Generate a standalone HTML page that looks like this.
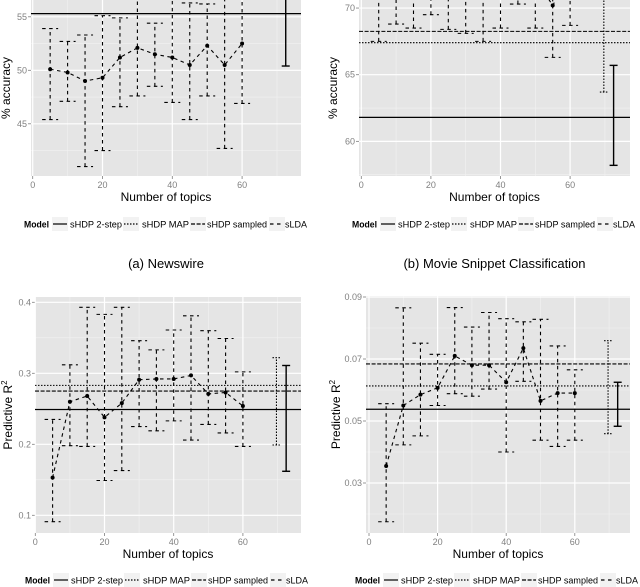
<!DOCTYPE html>
<html><head><meta charset="utf-8">
<style>
html,body{margin:0;padding:0;background:#fff;}
svg{display:block;font-family:"Liberation Sans",sans-serif;}
</style></head>
<body>
<svg id="fig" width="640" height="587" viewBox="0 0 640 587" xmlns="http://www.w3.org/2000/svg"></svg>
<script>
// ---- data ----
const topics = [5,10,15,20,25,30,35,40,45,50,55,60];
// (a) Newswire
const aMean = [50.1,49.8,49.0,49.3,51.2,52.1,51.5,51.2,50.5,52.3,50.5,52.5];
const aLow  = [45.4,47.1,41.0,42.5,46.6,47.6,48.5,47.0,45.4,47.6,42.7,46.9];
const aHigh = [53.9,52.7,53.3,55.1,54.9,58.5,54.4,59.0,56.3,56.2,59.0,59.0];
const aTwoStep = [55.3, 50.4, 59.0]; // mean, low, high
const aMap = [60.0, 58.0, 62.0];
const aSampled = 61.0;
// (b) Movie snippet
const bMean = [72.0,72.5,72.3,72.8,72.0,71.8,72.0,72.2,72.6,72.2,70.2,72.4];
const bLow  = [67.5,68.8,68.5,69.5,68.4,68.1,67.5,68.5,70.3,68.5,66.3,68.7];
const bHigh = [76,76,76,76,76,76,76,76,76,76,76,76];
const bTwoStep = [61.8, 58.2, 65.7];
const bMap = [67.4, 63.7, 73.0];
const bSampled = 68.25;
// (c) Predictive R2
const cMean = [0.153,0.260,0.268,0.238,0.258,0.291,0.292,0.292,0.297,0.271,0.273,0.254];
const cLow  = [0.091,0.198,0.197,0.149,0.163,0.225,0.219,0.233,0.206,0.228,0.216,0.197];
const cHigh = [0.235,0.312,0.393,0.383,0.393,0.346,0.333,0.361,0.381,0.360,0.349,0.302];
const cTwoStep = [0.249, 0.162, 0.311];
const cMap = [0.283, 0.199, 0.322];
const cSampled = 0.275;
// (d) Predictive R2
const dMean = [0.0355,0.055,0.0585,0.0607,0.071,0.068,0.068,0.0625,0.0735,0.0565,0.059,0.059];
const dLow  = [0.0175,0.0423,0.0452,0.055,0.0588,0.058,0.0603,0.040,0.0628,0.0438,0.0418,0.0438];
const dHigh = [0.0556,0.0865,0.0751,0.0715,0.0866,0.0803,0.0850,0.0830,0.0820,0.0828,0.0742,0.0665];
const dTwoStep = [0.0538, 0.0483, 0.0625];
const dMap = [0.0613, 0.0459, 0.0759];
const dSampled = 0.0684;
const aTicks = [45,50,55];
const bTicks = [60,65,70];
const cTicks = [0.1,0.2,0.3,0.4];
const dTicks = [0.03,0.05,0.07,0.09];
const xTicks = [0,20,40,60];
const twoStepX = 72.5, mapX = 69.7;

const NS="http://www.w3.org/2000/svg";
const svg=document.getElementById('fig');
function mk(tag,attrs,parent){const e=document.createElementNS(NS,tag);for(const k in attrs)e.setAttribute(k,attrs[k]);(parent||svg).appendChild(e);return e;}

const DASH={solid:null,map:"1.5,1.5",sampled:"4,1.6",slda:"3.5,3.5"};

function panel(id,cfg){
  const g=mk('g',{});
  
  
  const {x0,x1,y0,y1,xz,sx,yRef,yRefPx,sy}=cfg;
  const X=v=>xz+v*sx;
  const Y=v=>yRefPx-(v-yRef)*sy;
  const bg=mk('rect',{x:x0,y:y0,width:x1-x0,height:y1-y0,fill:'#e5e5e5'},g);
  
  
  const cp=mk('clipPath',{id:'clip-'+id},g);
  mk('rect',{x:x0,y:y0,width:x1-x0,height:y1-y0},cp);
  const tk=cfg.yTicks, step=tk[1]-tk[0];
  for(let i=-1;i<tk.length;i++){const v=tk[0]+step*(i+0.5);const yy=Y(v);if(yy>y0&&yy<y1)mk('line',{x1:x0,x2:x1,y1:yy,y2:yy,stroke:'#f2f2f2','stroke-width':0.6},g);}
  for(let i=0;i<xTicks.length;i++){const v=xTicks[i]+10;const xx=X(v);if(xx<x1)mk('line',{x1:xx,x2:xx,y1:y0,y2:y1,stroke:'#f2f2f2','stroke-width':0.6},g);}
  tk.forEach(v=>{const yy=Y(v);mk('line',{x1:x0,x2:x1,y1:yy,y2:yy,stroke:'#fff','stroke-width':1.2},g);
    mk('line',{x1:x0-3,x2:x0,y1:yy,y2:yy,stroke:'#7f7f7f','stroke-width':0.8},g);
    const t=mk('text',{x:x0-4,y:yy+3,'text-anchor':'end','font-size':9,fill:'#7f7f7f'},g);t.textContent=cfg.fmt(v);
    });
  xTicks.forEach(v=>{const xx=X(v);mk('line',{x1:xx,x2:xx,y1:y0,y2:y1,stroke:'#fff','stroke-width':1.2},g);
    mk('line',{x1:xx,x2:xx,y1:y1,y2:y1+3,stroke:'#7f7f7f','stroke-width':0.8},g);
    const t=mk('text',{x:xx,y:y1+12,'text-anchor':'middle','font-size':9,fill:'#7f7f7f'},g);t.textContent=v;
    });
  const pg=mk('g',{'clip-path':'url(#clip-'+id+')'},g);
  const ln=(a,b,c,d,dash,w)=>{const l=mk('line',{x1:a,y1:b,x2:c,y2:d,stroke:'#000','stroke-width':w||1},pg);if(dash)l.setAttribute('stroke-dasharray',dash);return l;};
  const h1=ln(x0,Y(cfg.two[0]),x1,Y(cfg.two[0]),null,1.2);
  const h2=ln(x0,Y(cfg.map[0]),x1,Y(cfg.map[0]),DASH.map,1.1);
  const h3=ln(x0,Y(cfg.samp),x1,Y(cfg.samp),DASH.sampled,1.1);
  const eb=(xv,lo,hi,dash,w,name)=>{const xx=X(xv);const e=mk('g',{},pg);
    const add=(a,b,c,d)=>{const l=mk('line',{x1:a,y1:b,x2:c,y2:d,stroke:'#000','stroke-width':w},e);if(dash)l.setAttribute('stroke-dasharray',dash);};
    add(xx,Y(lo),xx,Y(hi));add(xx-4,Y(lo),xx+4,Y(lo));add(xx-4,Y(hi),xx+4,Y(hi));};
  eb(twoStepX,cfg.two[1],cfg.two[2],null,1.4,'shdp-2step-errorbar');
  eb(mapX,cfg.map[1],cfg.map[2],DASH.map,1.1,'shdp-map-errorbar');
  topics.forEach((t,i)=>{const xx=X(t);const e=mk('g',{},pg);
    const add=(a,b,c,d)=>{mk('line',{x1:a,y1:b,x2:c,y2:d,stroke:'#000','stroke-width':1.1,'stroke-dasharray':DASH.slda},e);};
    add(xx,Y(cfg.low[i]),xx,Y(cfg.high[i]));add(xx-8,Y(cfg.low[i]),xx+8,Y(cfg.low[i]));add(xx-8,Y(cfg.high[i]),xx+8,Y(cfg.high[i]));});
  const pts=topics.map((t,i)=>X(t)+','+Y(cfg.mean[i])).join(' ');
  const pl=mk('polyline',{points:pts,fill:'none',stroke:'#000','stroke-width':1.1,'stroke-dasharray':DASH.slda},pg);
  
  topics.forEach((t,i)=>{const c=mk('circle',{cx:X(t),cy:Y(cfg.mean[i]),r:2,fill:'#000'},pg);
    });
  const xt=mk('text',{x:(x0+x1)/2,y:y1+25,'text-anchor':'middle','font-size':12,fill:'#000'},g);xt.textContent='Number of topics';
  
  const yc=(y0+y1)/2;
  const yt=mk('text',{x:cfg.ytx,y:yc,'text-anchor':'middle','font-size':12,fill:'#000',transform:`rotate(-90 ${cfg.ytx} ${yc})`},g);
  if(cfg.r2){yt.textContent='Predictive R';const s=mk('tspan',{'font-size':8,dy:-5},yt);s.textContent='2';}else yt.textContent='% accuracy';
  
  const lg=mk('g',{},g);
  const lx=cfg.lx, ly=cfg.ly;
  const m=mk('text',{x:lx,y:ly+3.5,'font-size':9,'font-weight':'bold',textLength:25,lengthAdjust:'spacingAndGlyphs'},lg);m.textContent='Model';
  const items=[['sHDP 2-step',null,52],['sHDP MAP',DASH.map,47],['sHDP sampled',DASH.sampled,60],['sLDA',DASH.slda,22]];
  const offs=[29,100,167,246];const labs=[46,118,183,261];
  items.forEach((it,k)=>{const kx=lx+offs[k];mk('rect',{x:kx-1,y:ly-7,width:16,height:14,fill:'#f2f2f2'},lg);
    const l=mk('line',{x1:kx,y1:ly,x2:kx+14,y2:ly,stroke:'#000','stroke-width':1.2},lg);if(it[1])l.setAttribute('stroke-dasharray',it[1]);
    const t=mk('text',{x:lx+labs[k],y:ly+3.5,'font-size':9,textLength:it[2],lengthAdjust:'spacingAndGlyphs'},lg);t.textContent=it[0];
    });
  if(cfg.cap){const c=mk('text',{x:(x0+x1)/2-(cfg.capShift||0),y:cfg.capY,'text-anchor':'middle','font-size':13},g);c.textContent=cfg.cap;
    }
}
const f1=v=>String(v);
panel('a',{x0:31,x1:301,y0:0,y1:176,xz:32.7,sx:3.49,yRef:50,yRefPx:70.3,sy:10.7,yTicks:aTicks,fmt:f1,
  mean:aMean,low:aLow,high:aHigh,two:aTwoStep,map:aMap,samp:aSampled,ytx:10,lx:24,ly:224,cap:'(a) Newswire',capY:268});
panel('b',{x0:359,x1:630,y0:0,y1:176,xz:361.3,sx:3.48,yRef:65,yRefPx:74.7,sy:13.33,yTicks:bTicks,fmt:f1,
  mean:bMean,low:bLow,high:bHigh,two:bTwoStep,map:bMap,samp:bSampled,ytx:337,lx:352,ly:224,cap:'(b) Movie Snippet Classification',capY:268});
panel('c',{x0:35,x1:301,y0:297,y1:533,xz:35.3,sx:3.46,yRef:0.2,yRefPx:444.3,sy:710,yTicks:cTicks,fmt:v=>v.toFixed(1),r2:true,
  mean:cMean,low:cLow,high:cHigh,two:cTwoStep,map:cMap,samp:cSampled,ytx:12,lx:25,ly:580});
panel('d',{x0:366,x1:630,y0:296,y1:533,xz:369,sx:3.43,yRef:0.05,yRefPx:421,sy:3100,yTicks:dTicks,fmt:v=>v.toFixed(2),r2:true,
  mean:dMean,low:dLow,high:dHigh,two:dTwoStep,map:dMap,samp:dSampled,ytx:340,lx:355,ly:580});
</script>
</body></html>
